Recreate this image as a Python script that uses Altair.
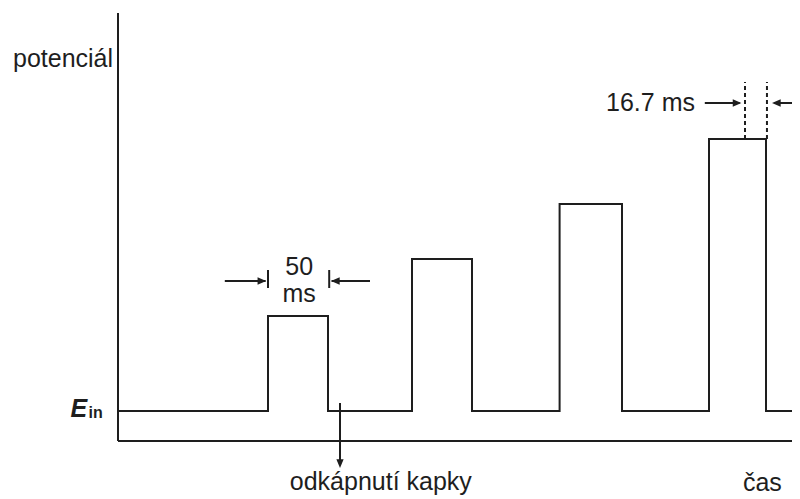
import altair as alt
import pandas as pd

# ---- data (time in ms, potential relative to E_in) ----
pulse_start = [125, 245, 368, 492.5]
pulse_end = [175, 295, 420, 540]
pulse_height = [95, 152, 207, 272]
t_begin = 0
t_finish = 564

axis_label_y = "potenciál"
axis_label_x = "čas"
base_label = "E"
base_sub = "in"
drop_label = "odkápnutí kapky"
width_label = ["50", "ms"]
sample_label = "16.7 ms"

# ---- build waveform ----
pts = [(t_begin, 0)]
for s, e, h in zip(pulse_start, pulse_end, pulse_height):
    pts += [(s, 0), (s, h), (e, h), (e, 0)]
pts.append((t_finish, 0))
wave = pd.DataFrame({"t": [p[0] for p in pts], "E": [p[1] for p in pts], "o": list(range(len(pts)))})

W, H = 784, 491
XDOM = [-110 / 1.2, (W - 110) / 1.2]
YDOM = [403 - H, 403]
INK = "#1e1e1e"
FONT = "Liberation Sans"

xs = alt.Scale(domain=XDOM, nice=False, zero=False)
ys = alt.Scale(domain=YDOM, nice=False, zero=False)


def X(f="t"):
    return alt.X(f + ":Q", scale=xs, axis=None)


def Y(f="E"):
    return alt.Y(f + ":Q", scale=ys, axis=None)


def rules(rows, dash=None, sw=2):
    df = pd.DataFrame(rows, columns=["t", "t2", "E", "E2"])
    kw = dict(color=INK, strokeWidth=sw)
    if dash:
        kw["strokeDash"] = dash
    return alt.Chart(df).mark_rule(**kw).encode(
        x=X(), x2="t2:Q", y=Y(), y2="E2:Q")


def heads(rows, path, size=380):
    df = pd.DataFrame(rows, columns=["t", "E"])
    return alt.Chart(df).mark_point(shape=path, filled=True, size=size, color=INK,
                                    opacity=1, strokeWidth=0).encode(x=X(), y=Y())


def text(t, E, label, align="left", size=25, style="normal", weight="normal"):
    df = pd.DataFrame({"t": [t], "E": [E], "label": [label]})
    return alt.Chart(df).mark_text(align=align, baseline="alphabetic", fontSize=size,
                                   font=FONT, fontStyle=style, fontWeight=weight,
                                   color=INK).encode(x=X(), y=Y(), text="label:N")


RIGHT = "M0,0L-1,-0.42L-1,0.42Z"
LEFT = "M0,0L1,-0.42L1,0.42Z"
DOWN = "M0,0L-0.42,-1L0.42,-1Z"

waveline = alt.Chart(wave).mark_line(color=INK, strokeWidth=2, strokeJoin="miter").encode(
    x=X(), y=Y(), order="o:Q")

axes = rules([(0, 0, -30, 398), (0, 568, -30, -30)])

ann_50 = rules([(125, 125, 123, 141), (176, 176, 123, 141),
                (89, 123, 130, 130), (178, 210, 130, 130)])
ann_50_heads = heads([(123.5, 130)], RIGHT, 300) + heads([(177.5, 130)], LEFT, 300)

ann_167 = rules([(522.5, 522.5, 272, 329), (540.8, 540.8, 272, 329)], dash=[4, 3])
ann_167_arrows = rules([(489, 518, 308, 308), (547, 575, 308, 308)])
ann_167_heads = heads([(519.5, 308)], RIGHT, 300) + heads([(545, 308)], LEFT, 300)

drop = rules([(185, 185, 8, -50)])
drop_head = heads([(185, -57)], DOWN, 300)

texts = (
    text(-87.5, 344, axis_label_y)
    + text(537, -80, axis_label_x, align="center")
    + text(219, -79, drop_label, align="center")
    + text(151, 136, width_label[0], align="center")
    + text(151, 109, width_label[1], align="center")
    + text(480.8, 300, sample_label, align="right")
    + text(-39.5, -6, base_label, size=25, style="italic", weight="bold")
    + text(-24.5, -7, base_sub, size=16, weight="bold")
)

chart = alt.layer(
    axes, waveline, ann_50, ann_50_heads, ann_167, ann_167_arrows, ann_167_heads,
    drop, drop_head, texts
).properties(
    width=W, height=H, autosize=alt.AutoSizeParams(type="none"), padding=0,
    background="white"
).configure_view(stroke=None)

chart.save("out.html", embed_options={"renderer": "svg", "actions": False})
